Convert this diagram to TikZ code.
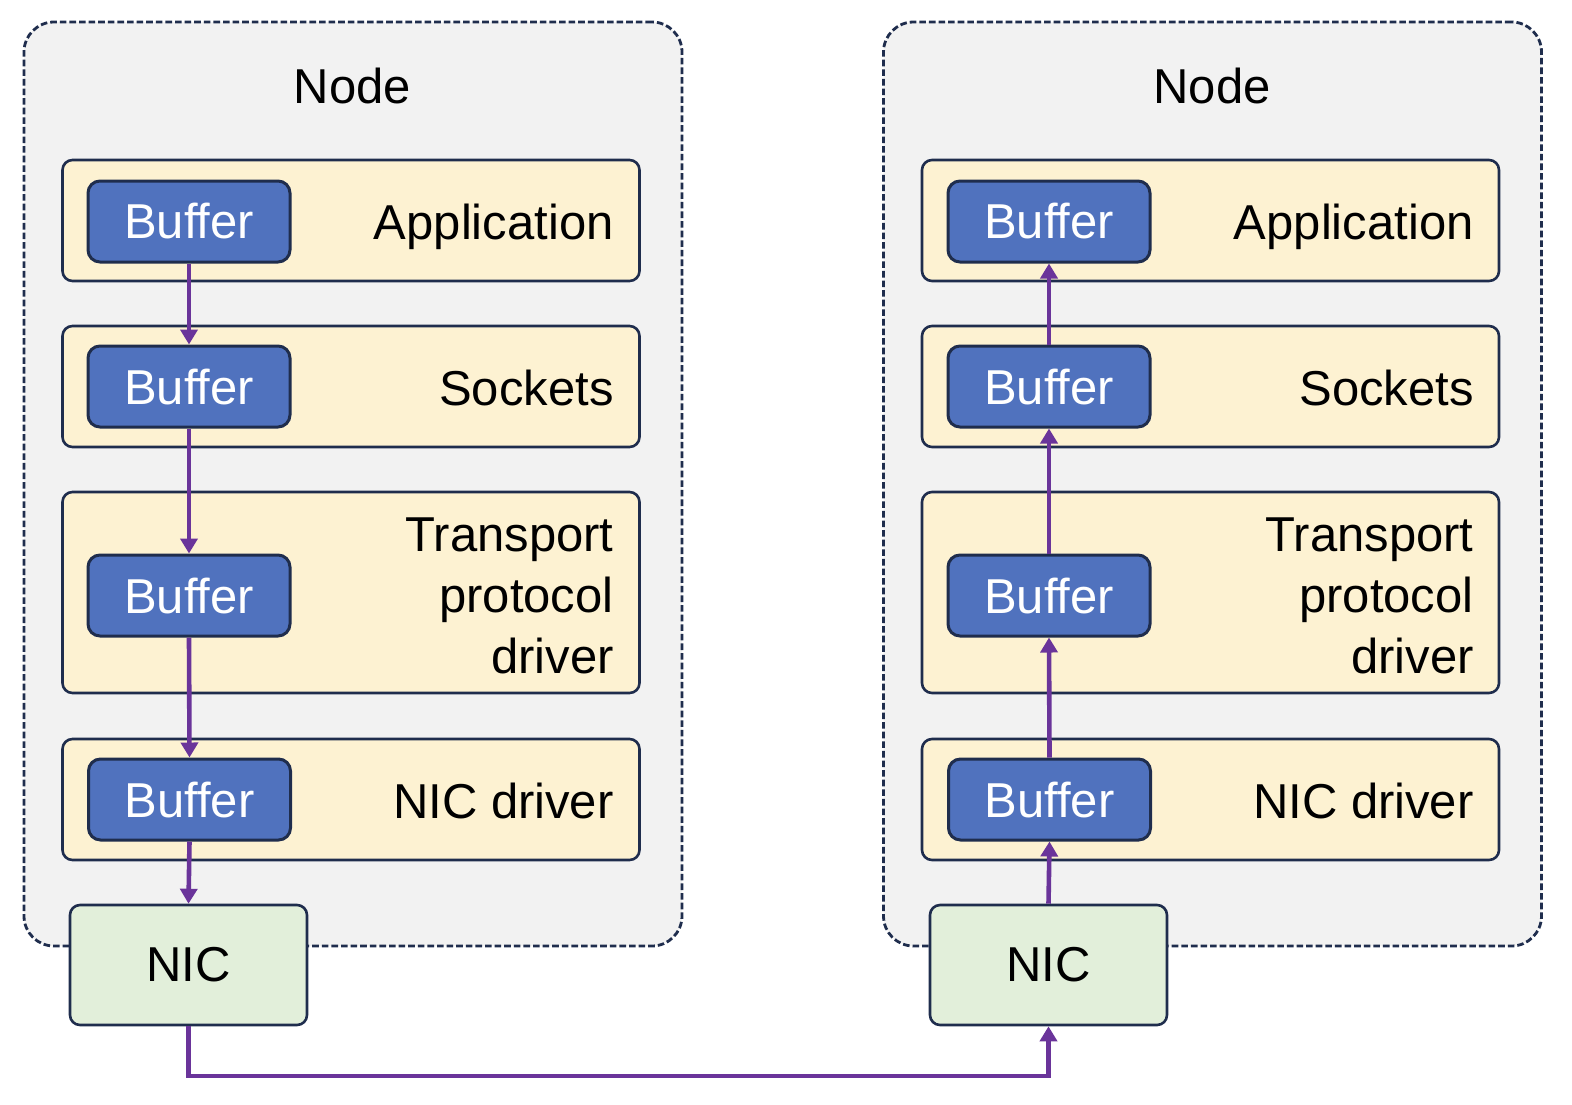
\documentclass[tikz,border=0pt]{standalone}
\usepackage{fontspec}
\setmainfont{Liberation Sans}
\usetikzlibrary{arrows.meta}
\definecolor{outerfill}{HTML}{F2F2F2}
\definecolor{navy}{HTML}{1F2D4D}
\definecolor{layerfill}{HTML}{FDF2D2}
\definecolor{bufblue}{HTML}{5072BE}
\definecolor{nicgreen}{HTML}{E2EFDA}
\definecolor{flow}{HTML}{6A349A}
\tikzset{
  outerbox/.style={draw=navy, fill=outerfill, line width=1.4pt, dash pattern=on 3.3pt off 1.5pt, rounded corners=15pt, minimum width=329pt, minimum height=462pt, inner sep=0pt},
  layerbox/.style={draw=navy, fill=layerfill, line width=1.3pt, rounded corners=5pt, minimum width=288.5pt, inner sep=0pt},
  bufbox/.style={draw=navy, fill=bufblue, line width=1.5pt, rounded corners=6pt, minimum width=101pt, minimum height=40.5pt, inner sep=0pt, text=white, font=\fontsize{24.5}{30.5}\selectfont},
  nicbox/.style={draw=navy, fill=nicgreen, line width=1.3pt, rounded corners=5pt, minimum width=118.5pt, minimum height=60pt, inner sep=0pt, font=\fontsize{24.5}{30.5}\selectfont},
  lbl/.style={font=\fontsize{24.5}{30.5}\selectfont, inner sep=0pt},
  layertxt/.style={lbl, anchor=base east, align=right},
  flowarrow/.style={draw=flow, line width=2.3pt, -{Triangle[length=7.5pt, width=8.5pt]}},
}
\begin{document}
\begin{tikzpicture}[x=0.5pt, y=-0.5pt]
\useasboundingbox (0,0) rectangle (1572,1104);
% outer node boxes
\node[outerbox] (outL) at (353,484) {};
\node[outerbox] (outR) at (1212.5,484) {};
\node[lbl, anchor=base] (titleL) at (352.5,103) {Node};
\node[lbl, anchor=base] (titleR) at (1212,103) {Node};
% layers left
\node[layerbox, minimum height=60.5pt] (appL) at (351,220.5) {};
\node[layerbox, minimum height=60.5pt] (sockL) at (351,386.5) {};
\node[layerbox, minimum height=100.5pt] (trL) at (351,592.5) {};
\node[layerbox, minimum height=60.5pt] (nicdL) at (351,799.5) {};
% layers right
\node[layerbox, minimum height=60.5pt] (appR) at (1210.5,220.5) {};
\node[layerbox, minimum height=60.5pt] (sockR) at (1210.5,386.5) {};
\node[layerbox, minimum height=100.5pt] (trR) at (1210.5,592.5) {};
\node[layerbox, minimum height=60.5pt] (nicdR) at (1210.5,799.5) {};
% layer texts
\node[layertxt] (appLt) at (614,239) {Application};
\node[layertxt] (sockLt) at (614,405) {Sockets};
\node[lbl, anchor=east, align=right] (trLt) at (614,596) {Transport\\protocol\\driver};
\node[layertxt] (nicdLt) at (614,818) {NIC driver};
\node[layertxt] (appRt) at (1474,239) {Application};
\node[layertxt] (sockRt) at (1474,405) {Sockets};
\node[lbl, anchor=east, align=right] (trRt) at (1474,596) {Transport\\protocol\\driver};
\node[layertxt] (nicdRt) at (1474,818) {NIC driver};
% buffers
\node[bufbox] (bAL) at (189,221.5) {Buffer};
\node[bufbox] (bSL) at (189,386.5) {Buffer};
\node[bufbox] (bTL) at (189,595.5) {Buffer};
\node[bufbox] (bNL) at (189.5,799.5) {Buffer};
\node[bufbox] (bAR) at (1049,221.5) {Buffer};
\node[bufbox] (bSR) at (1049,386.5) {Buffer};
\node[bufbox] (bTR) at (1049,595.5) {Buffer};
\node[bufbox] (bNR) at (1049.5,799.5) {Buffer};
% NICs
\node[nicbox] (nicL) at (188.5,965) {NIC};
\node[nicbox] (nicR) at (1048.5,965) {NIC};
% flows
\draw[flowarrow] (bAL.south) -- (bSL.north);
\draw[flowarrow] (bSL.south) -- (bTL.north);
\draw[flowarrow] (bTL.south) -- (bNL.north);
\draw[flowarrow] (bNL.south) -- (nicL.north);
\coordinate (wire) at (620,1076);
\draw[flowarrow] (nicL.south) |- (wire) -| (nicR.south);
\draw[flowarrow] (nicR.north) -- (bNR.south);
\draw[flowarrow] (bNR.north) -- (bTR.south);
\draw[flowarrow] (bTR.north) -- (bSR.south);
\draw[flowarrow] (bSR.north) -- (bAR.south);
\end{tikzpicture}
\end{document}
